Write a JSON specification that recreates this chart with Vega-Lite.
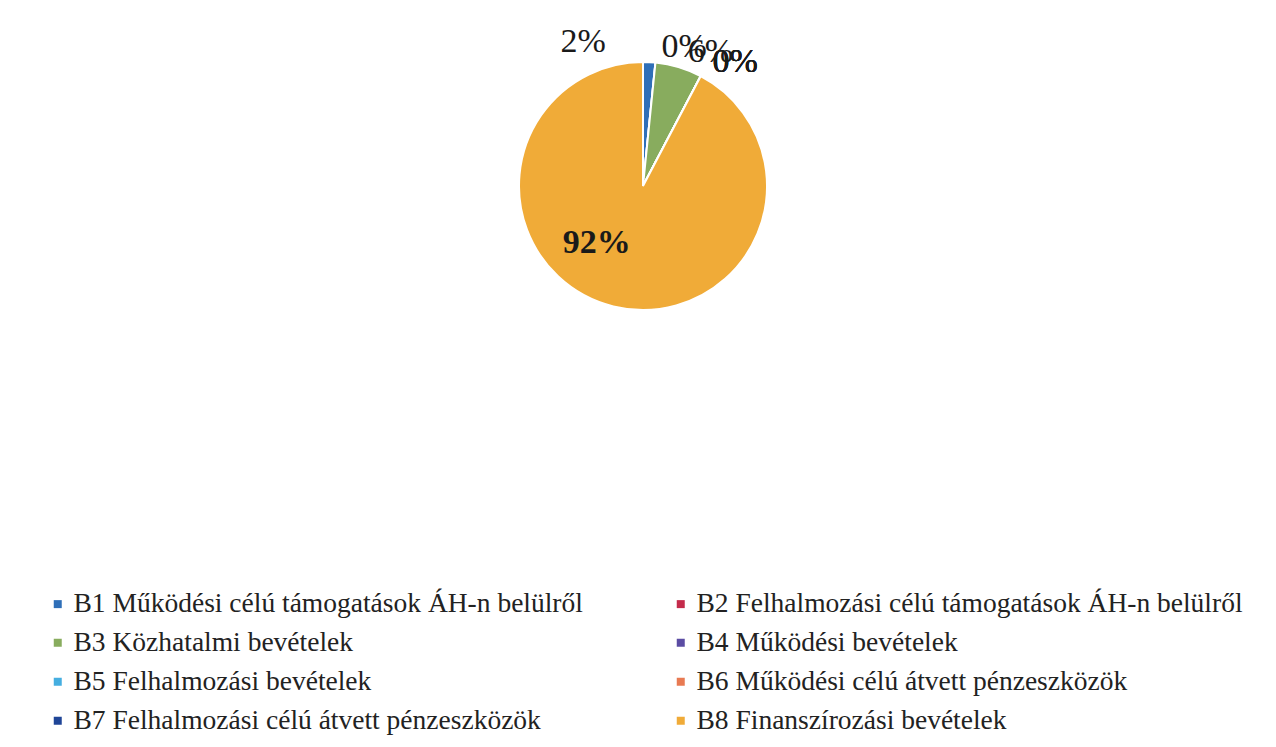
{
  "$schema": "https://vega.github.io/schema/vega-lite/v6.json",
  "width": 1266,
  "height": 372,
  "padding": {"left": 10, "top": 0, "right": 0, "bottom": 0},
  "autosize": {"type": "pad"},
  "background": "white",
  "config": {"view": {"stroke": null}, "font": "Liberation Serif"},
  "data": {
    "values": [
      {"idx": 1, "cat": "B1 Működési célú támogatások ÁH-n belülről", "value": 0.016},
      {"idx": 2, "cat": "B2 Felhalmozási célú támogatások ÁH-n belülről", "value": 0.0},
      {"idx": 3, "cat": "B3 Közhatalmi bevételek", "value": 0.061},
      {"idx": 4, "cat": "B4 Működési bevételek", "value": 0.0},
      {"idx": 5, "cat": "B5 Felhalmozási bevételek", "value": 0.0},
      {"idx": 6, "cat": "B6 Működési célú átvett pénzeszközök", "value": 0.0},
      {"idx": 7, "cat": "B7 Felhalmozási célú átvett pénzeszközök", "value": 0.0},
      {"idx": 8, "cat": "B8 Finanszírozási bevételek", "value": 0.923}
    ]
  },
  "encoding": {
    "theta": {"field": "value", "type": "quantitative", "stack": true},
    "order": {"field": "idx", "type": "quantitative"}
  },
  "layer": [
    {
      "mark": {"type": "arc", "outerRadius": 124, "stroke": "white", "strokeWidth": 2},
      "encoding": {
        "color": {
          "field": "cat",
          "type": "nominal",
          "scale": {"range": ["#2f6fb8", "#c42b4b", "#88ac5e", "#5b4ca3", "#45aee0", "#e87a52", "#1f4597", "#f0ab38"]},
          "legend": {
            "orient": "none",
            "direction": "horizontal",
            "legendX": 34,
            "legendY": 590,
            "columns": 2,
            "columnPadding": 84,
            "rowPadding": 10,
            "symbolType": "square",
            "symbolSize": 64,
            "symbolStrokeWidth": 0,
            "labelFontSize": 27.5,
            "labelFont": "Liberation Serif",
            "labelColor": "#222222",
            "labelLimit": 0,
            "labelOffset": 2,
            "title": null
          }
        }
      }
    },
    {
      "mark": {"type": "text", "radius": 140, "dx": 27, "fontSize": 34, "font": "Liberation Serif", "color": "#1a1a1a"},
      "encoding": {
        "text": {"condition": {"test": "datum.idx >= 2 && datum.idx <= 7", "field": "value", "format": ".0%"}, "value": ""}
      }
    },
    {
      "mark": {"type": "text", "radius": 144, "dx": -67, "fontSize": 34, "font": "Liberation Serif", "color": "#1a1a1a"},
      "encoding": {
        "text": {"condition": {"test": "datum.idx == 1", "field": "value", "format": ".0%"}, "value": ""}
      }
    },
    {
      "mark": {"type": "text", "radius": 59, "dx": -32, "fontSize": 34, "fontWeight": "bold", "font": "Liberation Serif", "color": "#1a1a1a"},
      "encoding": {
        "text": {"condition": {"test": "datum.idx == 8", "field": "value", "format": ".0%"}, "value": ""}
      }
    }
  ]
}
